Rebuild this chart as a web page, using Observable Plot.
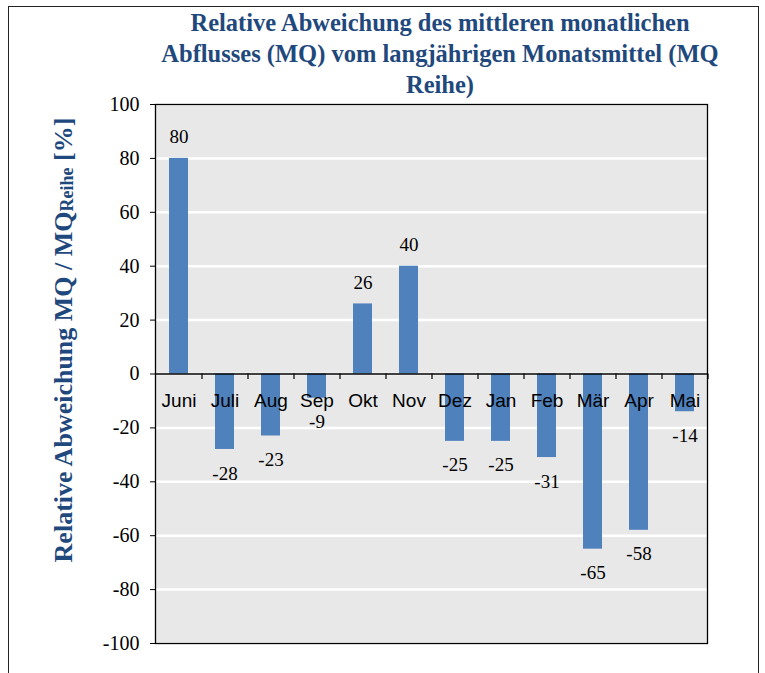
<!DOCTYPE html>
<html>
<head>
<meta charset="utf-8">
<script src="https://cdn.jsdelivr.net/npm/d3@7"></script>
<script src="https://cdn.jsdelivr.net/npm/@observablehq/plot@0.6"></script>
<style>
  html, body { margin: 0; padding: 0; background: #fff; overflow: hidden; }
  #wrap { position: relative; width: 765px; height: 673px; }
  #border { position: absolute; left: 8px; top: 6px; width: 751px; height: 720px; border: 1.5px solid #222; box-sizing: border-box; }
  #title { position: absolute; left: 100px; width: 680px; top: 7px; text-align: center;
           font-family: "Liberation Serif", "Times New Roman", serif; font-weight: bold; font-size: 24.5px;
           line-height: 31px; color: #1f497d; }
  #ylab { position: absolute; left: 64px; top: 340px; transform: translate(-50%, -50%) rotate(-90deg);
          white-space: nowrap; font-family: "Liberation Serif", "Times New Roman", serif; font-weight: bold;
          font-size: 26px; color: #1f497d; }
  #ylab sub { font-size: 18px; vertical-align: -1px; }
  #chart { position: absolute; left: 0; top: 0; }
  #chart svg text { font-family: "Liberation Serif", "Times New Roman", serif; }
  #chart svg .monthlab text { font-family: "Liberation Sans", Arial, sans-serif; }
</style>
</head>
<body>
<div id="wrap">
  <div id="border"></div>
  <div id="chart"></div>
  <div id="title">Relative Abweichung des mittleren monatlichen<br>Abflusses (MQ) vom langjährigen Monatsmittel (MQ<br>Reihe)</div>
  <div id="ylab">Relative Abweichung MQ / MQ<sub>Reihe</sub> [%]</div>
</div>
<script>
const months = ["Juni", "Juli", "Aug", "Sep", "Okt", "Nov", "Dez", "Jan", "Feb", "Mär", "Apr", "Mai"];
const values = [80, -28, -23, -9, 26, 40, -25, -25, -31, -65, -58, -14];
const yTicks = [-100, -80, -60, -40, -20, 0, 20, 40, 60, 80, 100];

const serif = "'Liberation Serif', 'Times New Roman', serif";
const sans = "'Liberation Sans', Arial, sans-serif";

const data = months.map((m, i) => ({month: m, value: values[i]}));
const pos = data.filter(d => d.value >= 0);
const neg = data.filter(d => d.value < 0);

const chart = Plot.plot({
  width: 765,
  height: 673,
  marginLeft: 155,
  marginRight: 58,
  marginTop: 104,
  marginBottom: 30,
  style: {background: "transparent", fontFamily: serif, fontSize: "19px", color: "#000"},
  x: {domain: months, paddingInner: 0.59, paddingOuter: 0.295, axis: null},
  y: {domain: [-100, 100], label: null},
  marks: [
    Plot.frame({fill: "#e8e8e8", stroke: null}),
    Plot.gridY(yTicks, {stroke: "#ffffff", strokeOpacity: 1, strokeWidth: 2.5}),
    Plot.barY(data, {x: "month", y: "value", fill: "#4f81bd"}),
    Plot.ruleY([0], {stroke: "#000", strokeWidth: 1.5}),
    Plot.ruleX(months, {x: d => d, y1: 0, y2: -2, dx: 23, stroke: "#000", strokeWidth: 1.2}),
    Plot.axisY(yTicks, {tickSize: 5, tickPadding: 11, tickFormat: d => String(d), stroke: "#000", fontSize: 20, fontFamily: serif, fill: "#000"}),
    Plot.text(data, {x: "month", y: 0, text: "month", dy: 27, fontFamily: sans, fontSize: 19, fill: "#000", className: "monthlab"}),
    Plot.text(pos, {x: "month", y: "value", text: d => String(d.value), dy: -21, fontFamily: serif, fontSize: 19, fill: "#000"}),
    Plot.text(neg, {x: "month", y: "value", text: d => String(d.value), dy: 24, fontFamily: serif, fontSize: 19, fill: "#000"}),
    Plot.frame({stroke: "#000", strokeWidth: 1.3})
  ]
});
document.getElementById("chart").appendChild(chart);
</script>
</body>
</html>
